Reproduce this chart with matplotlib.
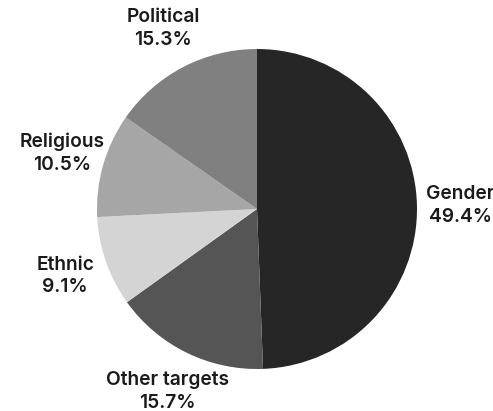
import matplotlib
matplotlib.use("Agg")
from matplotlib import pyplot as plt

labels = ["Gender", "Other targets", "Ethnic", "Religious", "Political"]
shares = [49.4, 15.7, 9.1, 10.5, 15.3]
colors = ["#262626", "#555555", "#d4d4d4", "#a6a6a6", "#808080"]

plt.rcParams['font.family'] = ['Inter', 'DejaVu Sans']

fig = plt.figure(figsize=(4.93, 4.11), dpi=100)
ax = fig.add_axes([97 / 493, 42 / 411, 320 / 493, 320 / 411])

wedges, texts = ax.pie(shares, colors=colors, startangle=90, counterclock=False,
                       labels=[f"{l}\n{s}%" for l, s in zip(labels, shares)],
                       labeldistance=1.27,
                       wedgeprops=dict(linewidth=0))
for t in texts:
    t.set_ha('center')
    t.set_va('center')
    t.set_fontsize(13.8)
    t.set_fontweight('semibold')
    t.set_color('#1a1a1a')
    t.set_linespacing(1.35)

ax.set_xlim(-1, 1)
ax.set_ylim(-1, 1)

plt.savefig("out.png", dpi=100)
